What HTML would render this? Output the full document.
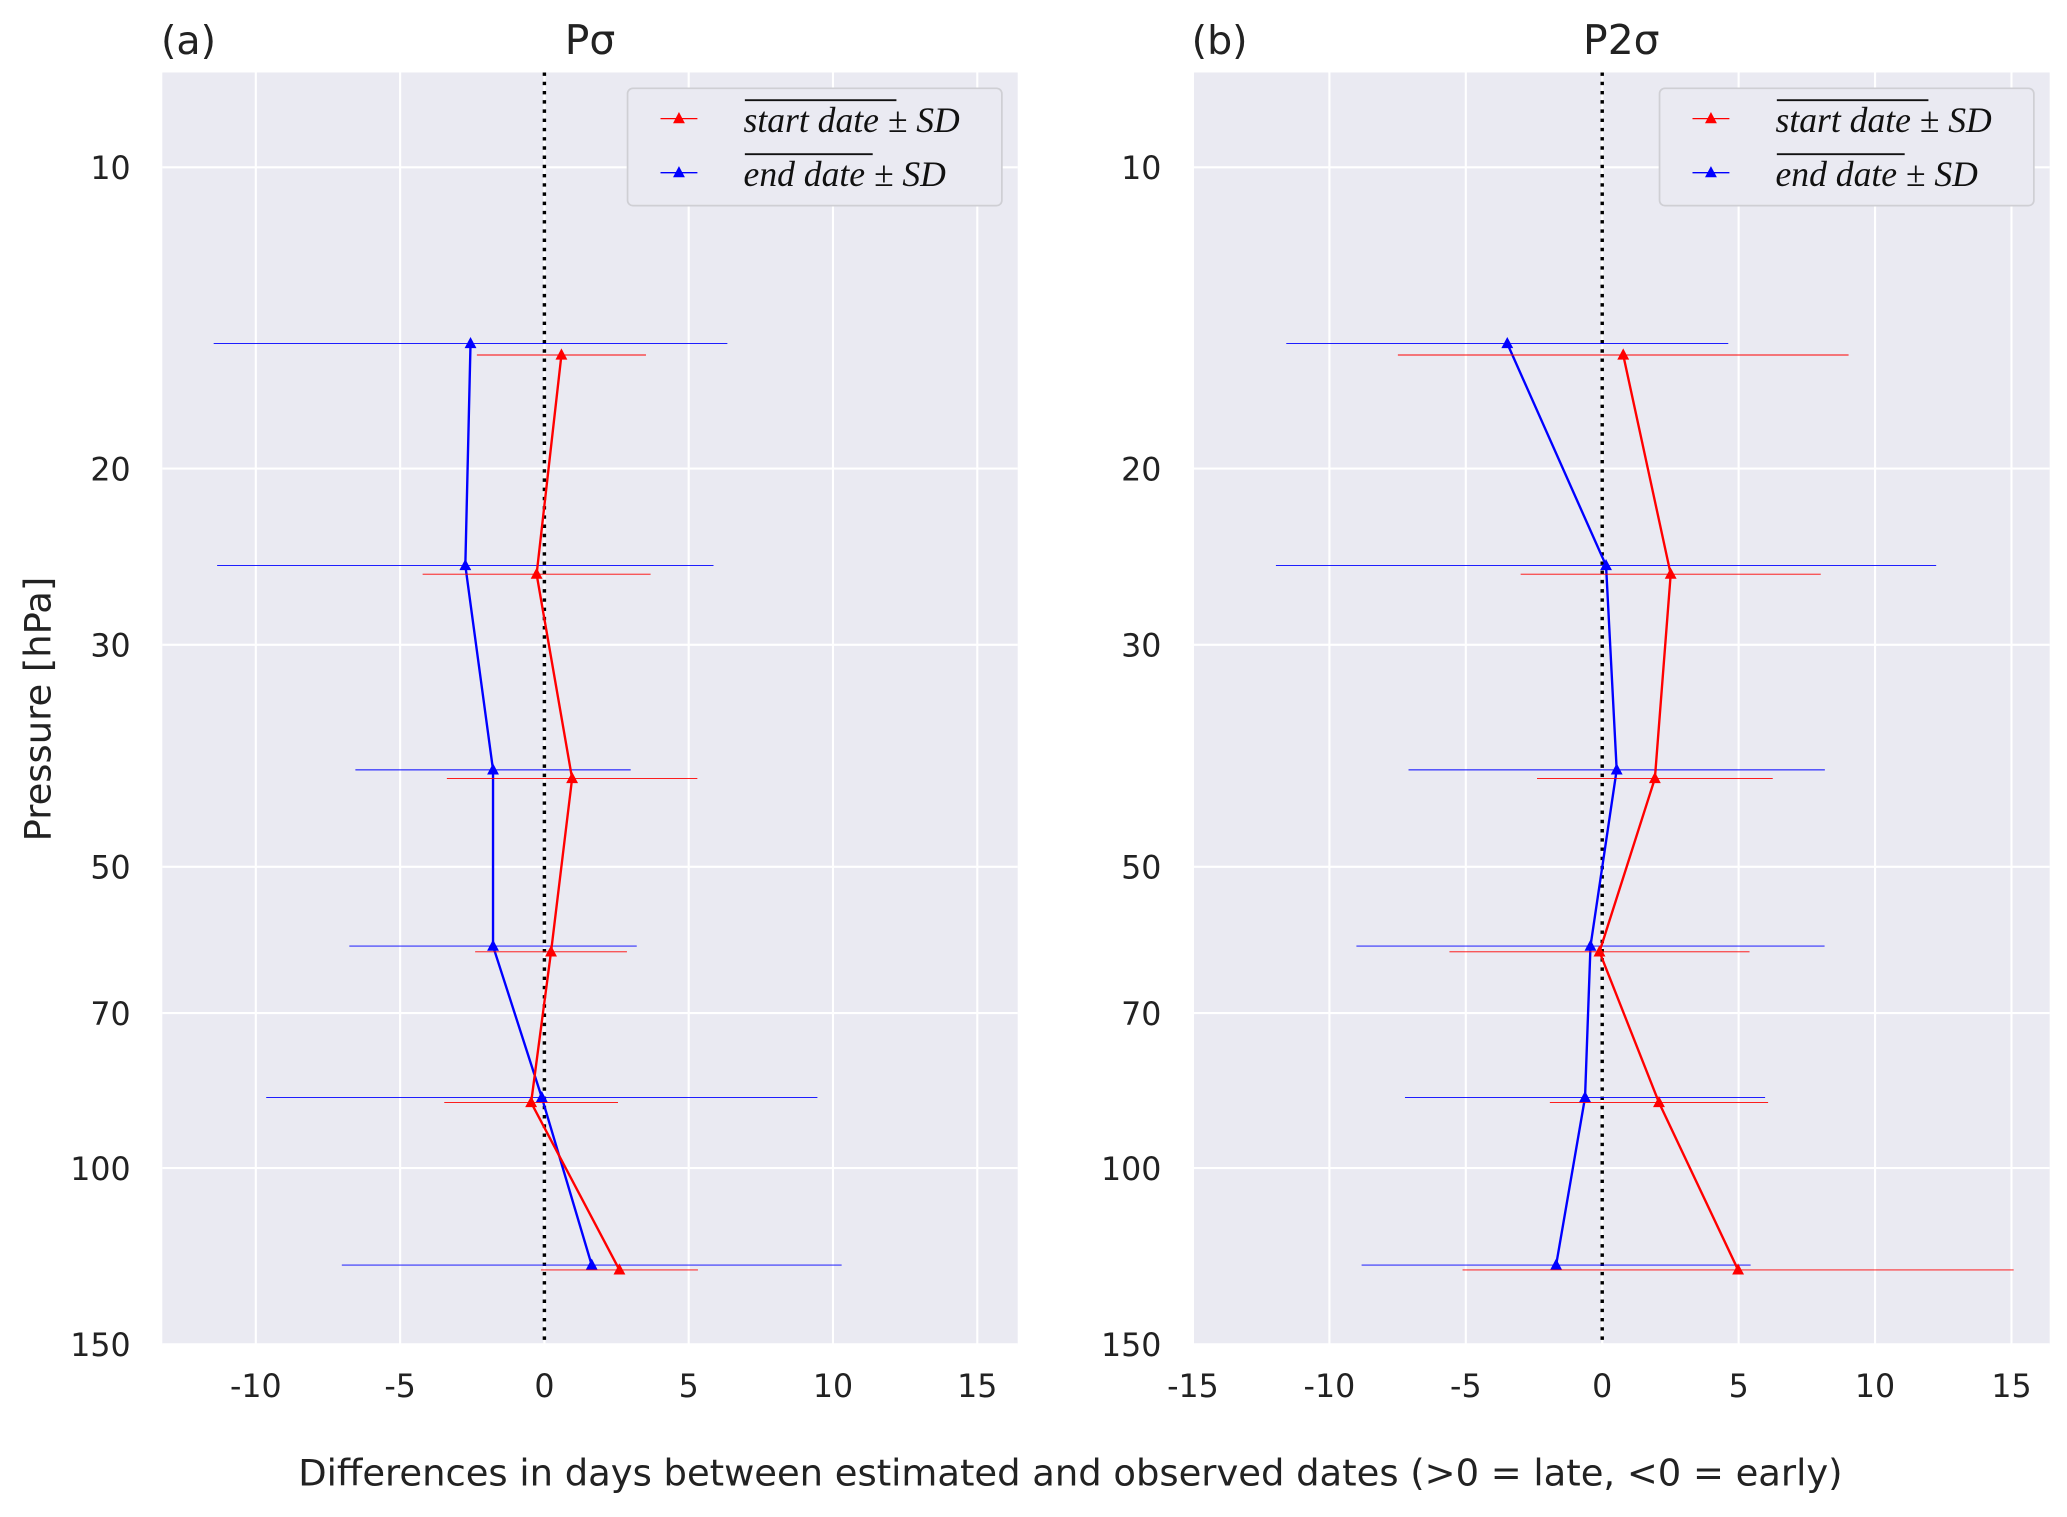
<!DOCTYPE html>
<html><head><meta charset="utf-8"><style>
html,body{margin:0;padding:0;background:#fff}
svg{display:block}
text{font-family:"DejaVu Sans","Liberation Sans",sans-serif;fill:#222}
.tick{font-size:24px}
.leg{font-family:"Liberation Serif",serif;font-style:italic;font-size:27px;fill:#111}
</style></head><body>
<svg id="chart" width="2067" height="1517" viewBox="0 0 1568 1151" xmlns="http://www.w3.org/2000/svg"></svg>
<script>
const pressureEnd = [15, 25, 40, 60, 85, 125];
const pressureStart = [15.4, 25.5, 40.8, 60.8, 86, 126.4];
const yTicks = [10, 20, 30, 50, 70, 100, 150];
const aStartMean = [0.59, -0.27, 0.96, 0.23, -0.46, 2.6];
const aStartSD = [2.93, 3.95, 4.34, 2.63, 3.01, 2.72];
const aEndMean = [-2.56, -2.74, -1.78, -1.78, -0.09, 1.64];
const aEndSD = [8.9, 8.6, 4.77, 4.98, 9.55, 8.66];
const bStartMean = [0.77, 2.51, 1.93, -0.1, 2.08, 4.98];
const bStartSD = [8.26, 5.5, 4.32, 5.5, 4.0, 10.1];
const bEndMean = [-3.48, 0.14, 0.53, -0.43, -0.63, -1.69];
const bEndSD = [8.1, 12.1, 7.63, 8.58, 6.6, 7.13];
const aXTicks = [-10, -5, 0, 5, 10, 15];
const bXTicks = [-15, -10, -5, 0, 5, 10, 15];

const NS = "http://www.w3.org/2000/svg";
const svg = document.getElementById('chart');
function el(tag, attrs, parent, txt){
  const e = document.createElementNS(NS, tag);
  for (const k in attrs) e.setAttribute(k, attrs[k]);
  if (txt !== undefined) e.textContent = txt;
  (parent || svg).appendChild(e);
  return e;
}
const plotTop = 55, plotBot = 1020;
const yMin = 8.04, yMax = 150;
function yScale(p){ return plotTop + (Math.log10(p) - Math.log10(yMin)) / (Math.log10(yMax) - Math.log10(yMin)) * (plotBot - plotTop); }

function tri(g, x, y, color){
  const t = el('polygon', {points: `${x},${y-5} ${x-4.5},${y+3.5} ${x+4.5},${y+3.5}`, fill: color}, g);
  
  
}

function panel(id, left, right, xMin, xMax, xTicks, startMean, startSD, endMean, endSD, label, title){
  const g = el('g', {}, svg);
  
  
  const xs = v => left + (v - xMin) / (xMax - xMin) * (right - left);
  const bg = el('rect', {x: left, y: plotTop, width: right - left, height: plotBot - plotTop, fill: '#eaeaf2'}, g);
  
  
  yTicks.forEach(t => {
    const y = yScale(t);
    const l = el('line', {x1: left, x2: right, y1: y, y2: y, stroke: '#fff', 'stroke-width': 1.6}, g);
    
    
    const tx = el('text', {x: left - 24, y: y + 9, 'text-anchor': 'end', class: 'tick'}, g, String(t));
    
    
  });
  xTicks.forEach(t => {
    const x = xs(t);
    const l = el('line', {x1: x, x2: x, y1: plotTop, y2: plotBot, stroke: '#fff', 'stroke-width': 1.6}, g);
    
    
    const tx = el('text', {x: x, y: plotBot + 40, 'text-anchor': 'middle', class: 'tick'}, g, String(t));
    
    
  });
  const z = el('line', {x1: xs(0), x2: xs(0), y1: plotTop, y2: plotBot, stroke: '#000', 'stroke-width': 2.6, 'stroke-dasharray': '2.6,4.4'}, g);
  
  
  [[endMean, endSD, pressureEnd, '#0000ff', 'end-date'], [startMean, startSD, pressureStart, '#ff0000', 'start-date']].forEach(([m, sd, pr, c, nm]) => {
    const sg = el('g', {}, g);
    
    
    m.forEach((v, i) => {
      const y = yScale(pr[i]);
      const e = el('line', {x1: xs(v - sd[i]), x2: xs(v + sd[i]), y1: y, y2: y, stroke: c, 'stroke-width': 0.7}, sg);
      
      
    });
    const pts = m.map((v, i) => xs(v) + ',' + yScale(pr[i])).join(' ');
    const pl = el('polyline', {points: pts, fill: 'none', stroke: c, 'stroke-width': 1.8}, sg);
    
    
    m.forEach((v, i) => tri(sg, xs(v), yScale(pr[i]), c));
  });
  const lb = el('text', {x: left - 1, y: 41, 'font-size': 30}, g, label);
  
  
  const tt = el('text', {x: (left + right) / 2, y: 41, 'font-size': 31, 'text-anchor': 'middle'}, g, title);
  
  
  const lg = el('g', {}, g);
  
  
  const lx = right - 296;
  el('rect', {x: lx, y: 67, width: 284, height: 89, rx: 4, fill: '#eaeaf2', stroke: '#cfcfd4', 'stroke-width': 1.3}, lg);
  [['#ff0000', 'start date', 90, 115], ['#0000ff', 'end date', 131, 97]].forEach(([c, t, y, w]) => {
    const en = el('g', {}, lg);
    
    
    el('line', {x1: lx + 25, x2: lx + 53, y1: y, y2: y, stroke: c, 'stroke-width': 1}, en);
    tri(en, lx + 39, y, c);
    el('line', {x1: lx + 89, x2: lx + 89 + w, y1: y - 14, y2: y - 14, stroke: '#111', 'stroke-width': 1.4}, en);
    el('text', {x: lx + 88, y: y + 10, class: 'leg'}, en, t + ' \u00b1 SD');
  });
}
panel('a', 123, 772, -13.24, 16.4, aXTicks, aStartMean, aStartSD, aEndMean, aEndSD, '(a)', 'P\u03c3');
panel('b', 905, 1555, -15, 16.4, bXTicks, bStartMean, bStartSD, bEndMean, bEndSD, '(b)', 'P2\u03c3');
const yl = el('text', {x: 0, y: 0, 'font-size': 28, 'text-anchor': 'middle', transform: 'translate(38,538) rotate(-90)'}, svg, 'Pressure [hPa]');


const xl = el('text', {x: 812, y: 1127, 'font-size': 28, 'text-anchor': 'middle'}, svg, 'Differences in days between estimated and observed dates (>0 = late, <0 = early)');


</script>
</body></html>
